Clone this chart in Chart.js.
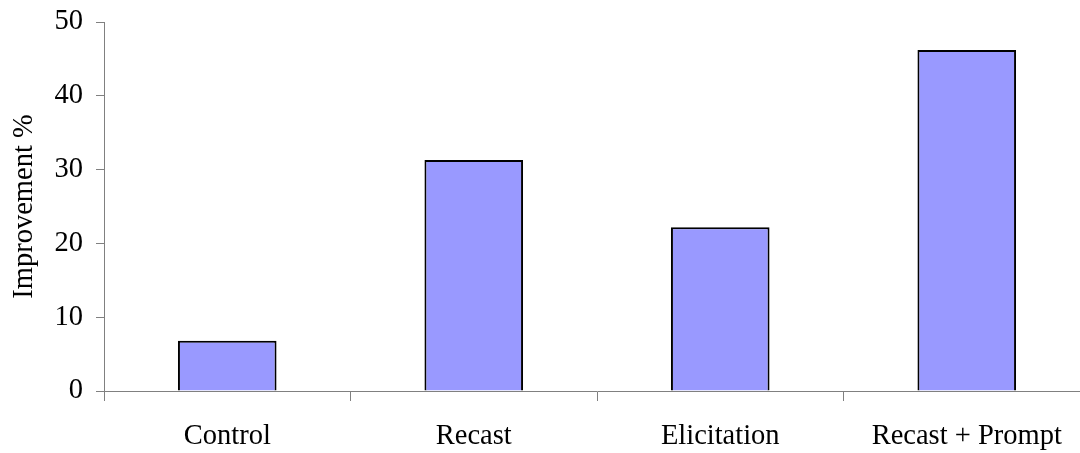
<!DOCTYPE html>
<html><head><meta charset="utf-8">
<script src="https://cdn.jsdelivr.net/npm/chart.js@4/dist/chart.umd.min.js"></script>
<style>html,body{margin:0;padding:0;background:#fff;overflow:hidden;width:1080px;height:453px}</style>
</head><body>
<canvas id="c" width="1090" height="453" style="width:1090px;height:453px;display:block"></canvas>
<script>
const categories = ["Control", "Recast", "Elicitation", "Recast + Prompt"];
const improvement = [6.8, 31.3, 22.2, 46.2];
const yTicks = [0, 10, 20, 30, 40, 50];

const font = "'Liberation Serif', 'Times New Roman', serif";
new Chart(document.getElementById('c'), {
  type: 'bar',
  data: {
    labels: categories,
    datasets: [{
      data: improvement,
      backgroundColor: '#9999FF',
      borderColor: '#000000',
      borderWidth: 2,
      barPercentage: 0.4,
      categoryPercentage: 1.0
    }]
  },
  options: {
    responsive: false,
    animation: false,
    layout: { padding: { top: 22, right: 0, left: 0, bottom: 0 } },
    plugins: { legend: { display: false }, tooltip: { enabled: false } },
    scales: {
      x: {
        offset: true,
        grid: { offset: true, drawOnChartArea: false, drawTicks: true, tickLength: 10, color: '#808080' },
        border: { color: '#808080', width: 1 },
        ticks: { color: '#000', font: { family: font, size: 28.5 }, padding: 18, maxRotation: 0, autoSkip: false },
        afterFit: s => { s.height = 62; s.paddingLeft = 0; s.paddingRight = 0; }
      },
      y: {
        min: 0, max: 50,
        afterBuildTicks: s => { s.ticks = yTicks.map(v => ({ value: v })); },
        grid: { drawOnChartArea: false, drawTicks: true, tickLength: 8, color: '#808080' },
        border: { color: '#808080', width: 1 },
        ticks: { color: '#000', font: { family: font, size: 28.5 }, padding: 13 },
        title: { display: true, text: 'Improvement %', color: '#000', font: { family: font, size: 28.5 }, padding: { top: 7, bottom: 0 } },
        afterFit: s => { s.width = 104; s.paddingTop = 0; s.paddingBottom = 0; }
      }
    }
  }
});
</script>
</body></html>
